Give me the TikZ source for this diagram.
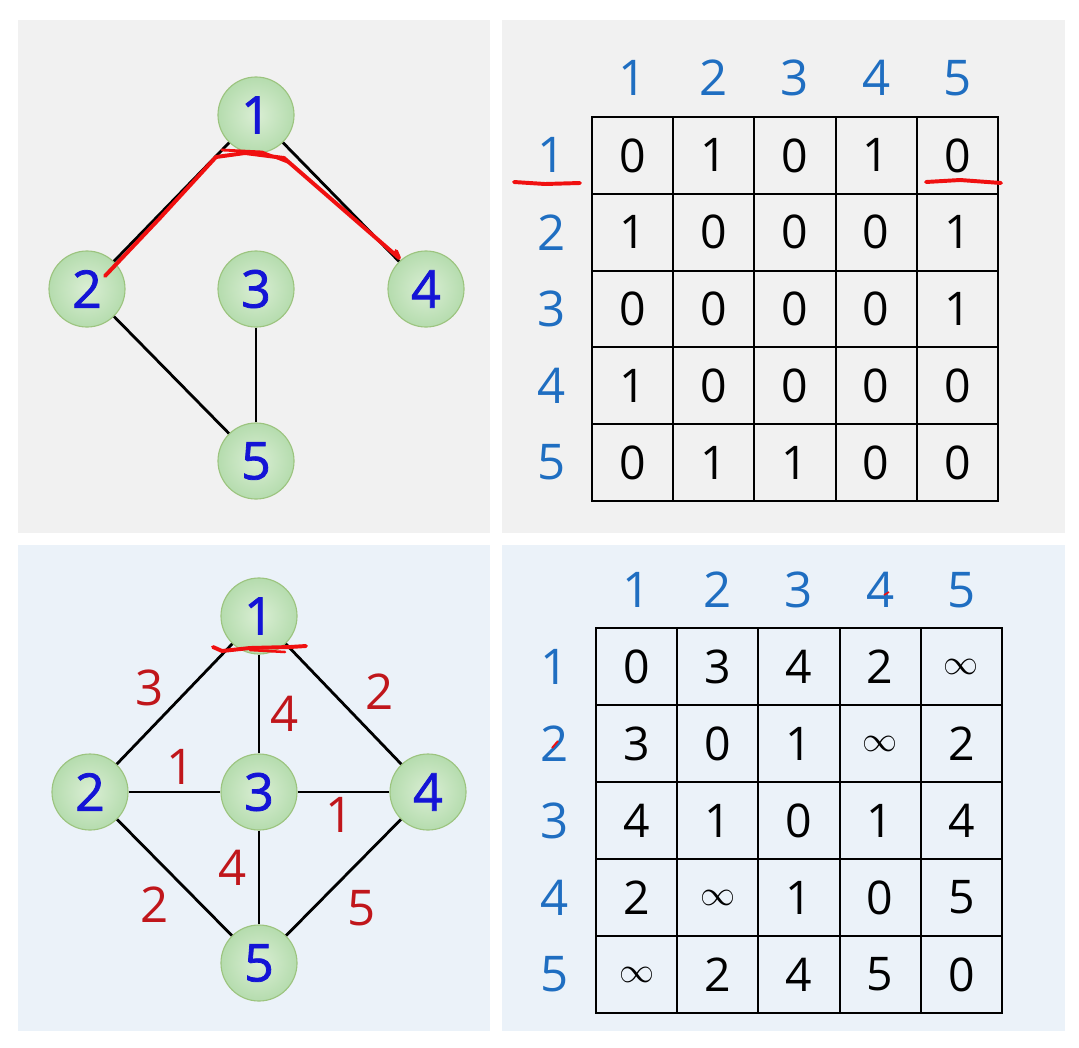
\documentclass[tikz,border=0pt]{standalone}
\usepackage{fontspec}
\setmainfont{Open Sans}
\newfontfamily\vertfont[FakeBold=1.5]{Open Sans}

\definecolor{panelGray}{HTML}{F1F1F1}
\definecolor{panelBlue}{HTML}{EBF2F9}
\definecolor{nodeIn}{HTML}{DAEED4}
\definecolor{nodeOut}{HTML}{B5DCAE}
\definecolor{nodeBorder}{HTML}{9CC47F}
\definecolor{vertBlue}{HTML}{1414D6}
\definecolor{idxBlue}{HTML}{1F6EC1}
\definecolor{wtRed}{HTML}{C0161B}
\definecolor{penRed}{HTML}{F01010}

\newcommand{\inff}{{\fontsize{24}{26}\selectfont$\infty$}}

\tikzset{
	vert/.style = {circle, draw = nodeBorder, line width = 0.8pt, inner color = nodeIn, outer color = nodeOut,
		minimum size = 1.9cm, inner sep = 0pt, text = vertBlue, font = \vertfont\fontsize{37}{39}\selectfont},
	cell/.style = {draw = black, line width = 1.3pt, minimum width = 2.03cm, minimum height = 1.92cm,
		inner sep = 0pt, font = \fontsize{33}{35}\selectfont},
	idx/.style = {text = idxBlue, font = \fontsize{35}{37}\selectfont},
	wt/.style = {text = wtRed, font = \fontsize{35}{37}\selectfont},
	edge/.style = {black, line width = 2pt},
	scribble/.style = {penRed, line width = 2.8pt, line cap = round, line join = round}
}

\begin{document}
\begin{tikzpicture}[x = 0.025cm, y = -0.025cm]
	\useasboundingbox (0,0) rectangle (1079,1047);
	\fill[white] (0,0) rectangle (1079,1047);
	
	% panels
	\fill[panelGray] (18,20) rectangle (490,533);
	\fill[panelGray] (502,20) rectangle (1065,533);
	\fill[panelBlue] (18,545) rectangle (490,1031);
	\fill[panelBlue] (502,545) rectangle (1065,1031);
	
	% unweighted graph
	\node[vert] (a1) at (256,115) {1};
	\node[vert] (a2) at (87,289) {2};
	\node[vert] (a3) at (256,289) {3};
	\node[vert] (a4) at (426,289) {4};
	\node[vert] (a5) at (256,461) {5};
	
	\draw[edge] (a1) -- (a2);
	\draw[edge] (a1) -- (a4);
	\draw[edge] (a2) -- (a5);
	\draw[edge] (a3) -- (a5);
	
	\draw[scribble] (105,276) -- (160,218) -- (216,157) -- (245,153) -- (284,158) -- (330,198) -- (399,258) -- (396,251);
	\draw[scribble, line width = 2pt] (222,150) -- (262,152) -- (290,163);
	
	% adjacency matrix
	\foreach \x in {1,...,5}{
		\node[idx] (ca\x) at ({592+81.2*(\x-0.5)},78) {\x};
		\node[idx] (ra\x) at (552,{117+76.8*(\x-0.5)}) {\x};
	}
	\foreach \row [count = \i] in {{0,1,0,1,0},{1,0,0,0,1},{0,0,0,0,1},{1,0,0,0,0},{0,1,1,0,0}}{
		\foreach \v [count = \j] in \row{
			\node[cell] (m-\i-\j) at ({592+81.2*(\j-0.5)},{117+76.8*(\i-0.5)}) {\v};
		}
	}
	\draw[scribble] (514,182) -- (545,184) -- (580,183);
	\draw[scribble] (926,182) -- (960,180) -- (1001,183);
	
	% weighted graph
	\node[vert] (w1) at (259,616) {1};
	\node[vert] (w2) at (90,792) {2};
	\node[vert] (w3) at (259,792) {3};
	\node[vert] (w4) at (428,792) {4};
	\node[vert] (w5) at (259,963) {5};
	
	\draw[edge] (w1) -- (w2);
	\draw[edge] (w1) -- (w3);
	\draw[edge] (w1) -- (w4);
	\draw[edge] (w2) -- (w3);
	\draw[edge] (w3) -- (w4);
	\draw[edge] (w2) -- (w5);
	\draw[edge] (w3) -- (w5);
	\draw[edge] (w4) -- (w5);
	
	\node[wt] (l12) at (150,688) {3};
	\node[wt] (l13) at (285,714) {4};
	\node[wt] (l14) at (380,692) {2};
	\node[wt] (l23) at (181,767) {1};
	\node[wt] (l34) at (340,815) {1};
	\node[wt] (l35) at (233,868) {4};
	\node[wt] (l25) at (155,905) {2};
	\node[wt] (l45) at (362,908) {5};
	
	\draw[scribble] (213,647) -- (222,651) -- (250,648) -- (290,647) -- (306,646);
	\draw[scribble, line width = 1.8pt] (250,650) -- (285,652);
	
	% weight matrix
	\foreach \x in {1,...,5}{
		\node[idx] (cw\x) at ({596+81.2*(\x-0.5)},590) {\x};
		\node[idx] (rw\x) at (555,{628+77*(\x-0.5)}) {\x};
	}
	\foreach \row [count = \i] in {{0,3,4,2,\inff},{3,0,1,\inff,2},{4,1,0,1,4},{2,\inff,1,0,5},{\inff,2,4,5,0}}{
		\foreach \v [count = \j] in \row{
			\node[cell] (d-\i-\j) at ({596+81.2*(\j-0.5)},{628+77*(\i-0.5)}) {\v};
		}
	}
	\draw[penRed, line width = 1.2pt] (884,595) -- (889,592);
	\draw[penRed, line width = 1.4pt] (552,748) -- (558,741);
\end{tikzpicture}
\end{document}
